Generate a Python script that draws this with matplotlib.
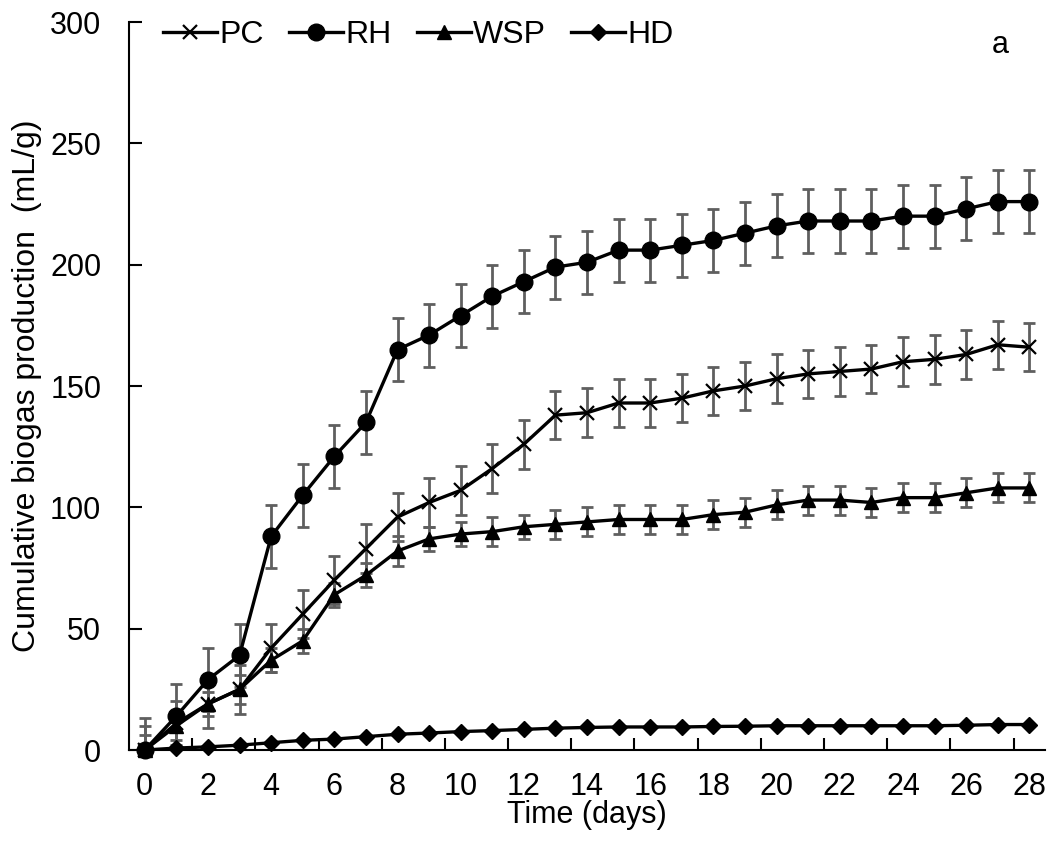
import numpy as np
import matplotlib
matplotlib.use("Agg")
import matplotlib.pyplot as plt

plt.rcParams['font.family'] = ['Liberation Sans', 'DejaVu Sans']

days = list(range(29))

pc = [0, 11, 19, 25, 42, 56, 70, 83, 96, 102, 107, 116, 126, 138, 139, 143, 143,
      145, 148, 150, 153, 155, 156, 157, 160, 161, 163, 167, 166]
rh = [0, 14, 29, 39, 88, 105, 121, 135, 165, 171, 179, 187, 193, 199, 201, 206, 206,
      208, 210, 213, 216, 218, 218, 218, 220, 220, 223, 226, 226]
wsp = [0, 10, 19, 25, 37, 45, 64, 72, 82, 87, 89, 90, 92, 93, 94, 95, 95,
       95, 97, 98, 101, 103, 103, 102, 104, 104, 106, 108, 108]
hd = [0, 0.8, 1.3, 2, 3, 4, 4.5, 5.5, 6.5, 7, 7.6, 8, 8.5, 9, 9.3, 9.5, 9.5,
      9.5, 9.7, 9.8, 10, 10, 10, 10, 10, 10, 10.2, 10.5, 10.5]

pc_err = [13, 9, 10, 10, 10, 10, 10, 10, 10, 10, 10, 10, 10, 10, 10, 10, 10,
          10, 10, 10, 10, 10, 10, 10, 10, 10, 10, 10, 10]
rh_err = [10, 13, 13, 13, 13, 13, 13, 13, 13, 13, 13, 13, 13, 13, 13, 13, 13,
          13, 13, 13, 13, 13, 13, 13, 13, 13, 13, 13, 13]
wsp_err = [6, 6, 5, 6, 5, 5, 5, 5, 6, 5, 5, 6, 5, 6, 6, 6, 6,
           6, 6, 6, 6, 6, 6, 6, 6, 6, 6, 6, 6]

# name, values, errors, marker, size, edge width
series = [
    ("PC", pc, pc_err, "x", 10, 1.6),
    ("RH", rh, rh_err, "o", 12, 0),
    ("WSP", wsp, wsp_err, "^", 10, 0),
    ("HD", hd, None, "D", 8, 0),
]

fig = plt.figure(figsize=(10.53, 8.47), dpi=100)
ax = fig.add_axes([0.1225, 0.1145, 0.87, 0.8595])

for name, vals, err, mk, ms, mew in series:
    if err is not None:
        ax.errorbar(days, vals, yerr=err, fmt="none", ecolor="#5f5f5f",
                    elinewidth=2, capsize=4, capthick=2, zorder=2)
    kw = dict(markeredgewidth=mew) if mew else {}
    ax.plot(days, vals, color="black", lw=2.4, marker=mk, ms=ms,
            markerfacecolor="black", markeredgecolor="black", label=name,
            zorder=3, clip_on=False, **kw)

ax.set_xlim(-0.5, 28.5)
ax.set_ylim(0, 300)
ax.set_yticks(range(0, 301, 50))
ax.set_xticks(range(0, 29, 2))
ax.set_xticks(np.arange(1.5, 28, 2), minor=True)
ax.tick_params(axis="x", which="major", length=0, labelsize=22, pad=16)
ax.tick_params(axis="x", which="minor", direction="in", length=9, width=1.5)
ax.tick_params(axis="y", direction="in", length=9, width=1.5, labelsize=22, pad=20)

for s in ["top", "right"]:
    ax.spines[s].set_visible(False)
for s in ["left", "bottom"]:
    ax.spines[s].set_linewidth(1.5)

ax.set_xlabel("Time (days)", fontsize=22)
ax.set_ylabel("Cumulative biogas production  (mL/g)", fontsize=23)
ax.xaxis.set_label_coords(0.5, -0.069)
ax.yaxis.set_label_coords(-0.095, 0.5)

ax.legend(loc="center left", ncol=4, frameon=False, fontsize=23,
          bbox_to_anchor=(0.037, 0.982), borderpad=0, borderaxespad=0,
          handlelength=1.69, handletextpad=0.08, columnspacing=0.78)
ax.text(0.951, 0.968, "a", transform=ax.transAxes, fontsize=22,
        ha="center", va="center")

fig.savefig("out.png", dpi=100)
